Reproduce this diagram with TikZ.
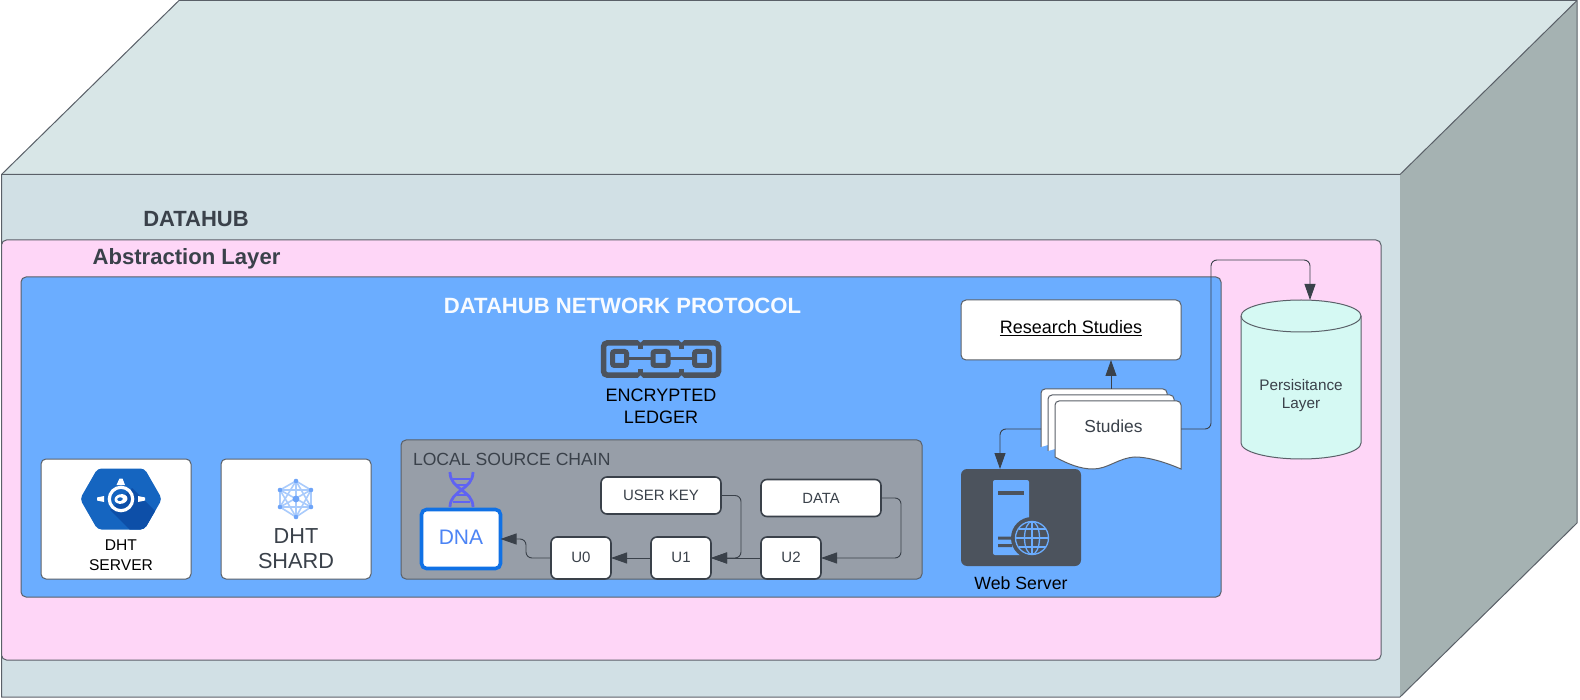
\documentclass[tikz,border=0pt]{standalone}
\usepackage{fontspec}
\setmainfont{Liberation Sans}
\usetikzlibrary{arrows.meta,calc}
\definecolor{ink}{HTML}{3A414A}
\definecolor{edge}{HTML}{5A6068}
\definecolor{topf}{HTML}{D8E6E7}
\definecolor{frontf}{HTML}{D1E0E5}
\definecolor{sidef}{HTML}{A5B2B2}
\definecolor{pinkf}{HTML}{FED6F7}
\definecolor{bluef}{HTML}{6BADFF}
\definecolor{greyf}{HTML}{979EA8}
\definecolor{cylf}{HTML}{D5F9F3}
\definecolor{darkf}{HTML}{4C535D}
\definecolor{dnablue}{HTML}{1071E5}
\definecolor{dnatext}{HTML}{4C84F5}
\definecolor{helix}{HTML}{5F63F2}
\definecolor{hexa}{HTML}{1565C0}
\definecolor{hexb}{HTML}{0D4FA8}
\definecolor{shl}{HTML}{A9CBFC}
\definecolor{shn}{HTML}{6EA4F8}
\newcommand{\fs}[1]{\fontsize{#1}{#1}\selectfont}
\tikzset{
  x=1pt,y=-1pt,
  box/.style={draw=edge,line width=1pt,rounded corners=5pt,inner sep=0pt,outer sep=0pt,align=center},
  wbox/.style={box,fill=white,text=ink},
  chainbox/.style={wbox,draw=ink,line width=1.6pt,rounded corners=6pt,font=\fs{15}},
  lbl/.style={inner sep=0pt,outer sep=0pt,align=center,text=ink},
  conn/.style={draw=ink,line width=0.9pt,rounded corners=6pt,-{Triangle[length=16pt,width=11pt]}},
  sheet/.style={fill=white,draw=edge,line width=1pt},
}
\begin{document}
\begin{tikzpicture}
\useasboundingbox (0,0) rectangle (1580,700);
% cuboid
\fill[topf] (1.5,174.5) -- (179,0.5) -- (1577,0.5) -- (1400,174.5) -- cycle;
\fill[sidef] (1400,174.5) -- (1577,0.5) -- (1577,523) -- (1400,697) -- cycle;
\fill[frontf] (1.5,174.5) rectangle (1400,697);
\draw[edge,line width=1pt,line join=round] (1.5,174.5) -- (179,0.5) -- (1577,0.5) -- (1577,523) -- (1400,697) -- (1.5,697) -- cycle;
\draw[edge,line width=1pt] (1.5,174.5) -- (1400,174.5) -- (1577,0.5);
\node[lbl,font=\fs{22}\bfseries] (datahub) at (196,219) {DATAHUB};
% layers
\node[box,fill=pinkf,minimum width=1379.5pt,minimum height=420pt,anchor=north west] (abstraction) at (1.5,240) {};
\node[lbl,font=\fs{22.1}\bfseries] (abstitle) at (186.5,258.5) {Abstraction Layer};
\node[box,fill=bluef,minimum width=1200pt,minimum height=320pt,anchor=north west] (protocol) at (21,277) {};
\node[lbl,font=\fs{22.1}\bfseries,text=white!95!bluef] (prottitle) at (622.5,306) {DATAHUB NETWORK PROTOCOL};
% chain icon
\begin{scope}[darkf,line width=5.5pt]
  \draw[rounded corners=4pt] (603.5,342.8) rectangle (718.5,375.2);
  \draw (640.5,342) -- (640.5,349) (640.5,369) -- (640.5,376) (681.5,342) -- (681.5,349) (681.5,369) -- (681.5,376);
  \draw[line width=5pt,rounded corners=2pt] (612.5,351.5) rectangle (626.5,365.5);
  \draw[line width=5pt,rounded corners=2pt] (653,351.5) rectangle (668,365.5);
  \draw[line width=5pt,rounded corners=2pt] (694.5,351.5) rectangle (709.5,365.5);
  \draw[line width=3pt] (626,358.5) -- (653,358.5) (668,358.5) -- (695,358.5);
\end{scope}
\fill[bluef] (637.5,339.6) -- (643.5,339.6) -- (640.5,342.5) -- cycle
  (678.5,339.6) -- (684.5,339.6) -- (681.5,342.5) -- cycle
  (637.5,378.4) -- (643.5,378.4) -- (640.5,375.5) -- cycle
  (678.5,378.4) -- (684.5,378.4) -- (681.5,375.5) -- cycle;
\node[lbl,font=\fs{18},text=black] (ledger) at (661,406.5) {ENCRYPTED\\[4pt]LEDGER};
% DHT server
\node[wbox,minimum width=150pt,minimum height=120pt] (dhtserver) at (116,519) {};
\fill[hexa,rounded corners=4pt] (80,499) -- (97.5,468.5) -- (144.5,468.5) -- (162,499) -- (144.5,529.5) -- (97.5,529.5) -- cycle;
\begin{scope}
  \clip[rounded corners=4pt] (80,499) -- (97.5,468.5) -- (144.5,468.5) -- (162,499) -- (144.5,529.5) -- (97.5,529.5) -- cycle;
  \fill[hexb] (110,510) -- (132,488) -- (175,531) -- (135,535) -- cycle;
\end{scope}
\draw[white,line width=3.2pt] (121,499) circle (11.7);
\fill[white,rotate around={10:(121,499)}] (121,499) ellipse (6.5 and 4.8);
\fill[hexa,rotate around={10:(121,499)}] (120,499) ellipse (2.8 and 1.8);
\fill[white] (119.5,478.5) -- (122.5,478.5) -- (125,485) -- (116.5,485) -- cycle;
\fill[white] (97,497.5) -- (104,496) -- (104,502) -- (97,500.5) -- cycle;
\fill[white] (145,497.5) -- (138,496) -- (138,502) -- (145,500.5) -- cycle;
\node[lbl,font=\fs{15.6},text=black] (servertxt) at (121,555.5) {DHT\\[4.5pt]SERVER};
% DHT shard
\node[wbox,minimum width=150pt,minimum height=120pt] (dhtshard) at (296,519) {};
\begin{scope}[shl,line width=1.6pt]
  \draw (296,481) -- (311,490) -- (311,507) -- (296,517) -- (280,507) -- (280,490) -- cycle;
  \draw (296,481) -- (296,517) (280,490) -- (311,507) (311,490) -- (280,507);
  \draw (296,481) -- (280,507) (296,481) -- (311,507) (296,517) -- (280,490) (296,517) -- (311,490);
  \draw (280,490) -- (311,490) (280,507) -- (311,507);
\end{scope}
\fill[shn] (296,499) circle (3.4);
\foreach \p in {(296,481),(311,490),(311,507),(296,517),(280,507),(280,490)} \fill[shn] \p circle (2.3);
\node[lbl,font=\fs{21.7}] (shardtxt) at (296,548.5) {DHT\\[4pt]SHARD};
% local source chain
\node[box,fill=greyf,minimum width=521pt,minimum height=139pt,anchor=north west] (lsc) at (401,440) {};
\node[lbl,font=\fs{17.6},anchor=west] (lsctxt) at (413,459.5) {LOCAL SOURCE CHAIN};
\begin{scope}[helix,line width=2.8pt]
  \draw (450,472) .. controls (450,490) and (473,490) .. (473,507);
  \draw (473,472) .. controls (473,490) and (450,490) .. (450,507);
  \draw[line width=2pt] (453,479) -- (470,479) (456,485) -- (468,485) (456,495) -- (467,495) (453,502) -- (470,502);
\end{scope}
\node[wbox,draw=dnablue,line width=3.6pt,minimum width=79pt,minimum height=59pt,text=dnatext,font=\fs{21}] (dna) at (461,539) {\raisebox{3pt}{DNA}};
\node[chainbox,minimum width=120pt,minimum height=37pt] (userkey) at (661,495.5) {USER KEY};
\node[chainbox,minimum width=120pt,minimum height=37pt,font=\fs{14.8}] (data) at (821,498) {\raisebox{-1pt}{DATA}};
\node[chainbox,minimum width=60pt,minimum height=42pt] (uzero) at (581,558) {\raisebox{1pt}{U0}};
\node[chainbox,minimum width=60pt,minimum height=42pt] (uone) at (681,558) {\raisebox{1pt}{U1}};
\node[chainbox,minimum width=60pt,minimum height=42pt] (utwo) at (791,558) {\raisebox{1pt}{U2}};
\coordinate (ukturn) at (741,495);
\coordinate (dtturn) at (901,498);
\coordinate (dnaturn) at (526,539);
\draw[conn] (userkey.east) -| (ukturn |- uone.east) -- (uone.east);
\draw[conn] (data.east) -| (dtturn |- utwo.east) -- (utwo.east);
\draw[conn,rounded corners=0pt] (utwo.west) -- (uone.east);
\draw[conn,rounded corners=0pt] (uone.west) -- (uzero.east);
\draw[conn] (uzero.west) -| (dnaturn) -- (dna.east);
% research + studies
\node[wbox,minimum width=220pt,minimum height=60pt,text=black,font=\fs{18}] (research) at (1071,330) {\raisebox{6pt}{\underline{Research Studies}}};
\draw[sheet,rounded corners=4pt] (1041,447) -- (1041,389) -- (1167,389) -- (1167,410);
\draw[sheet,rounded corners=4pt] (1048,451) -- (1048,395) -- (1174,395) -- (1174,415);
\path[sheet] (1055,457) [rounded corners=4pt] -- (1055,401) -- (1181,401) [sharp corners] -- (1181,469)
  .. controls (1160,460) and (1145,457) .. (1135,457) .. controls (1118,458) and (1108,469) .. (1093,469)
  .. controls (1080,469) and (1068,464) .. (1055,457) -- cycle;
\node[lbl,font=\fs{17.4}] (studies) at (1113.5,426) {Studies};
\coordinate (studiesleft) at (1041,429);
\coordinate (studiesright) at (1181,429);
\coordinate (studiestop) at (1111,389);
\coordinate (pturn) at (1211,260);
% web server
\node[box,draw=none,fill=darkf,minimum width=120pt,minimum height=97pt,rounded corners=6pt] (web) at (1021,517.5) {};
\fill[bluef,rounded corners=2pt] (993,555) -- (993,480) -- (1029,480) -- (1029,555) -- cycle;
\fill[darkf] (998,491) rectangle (1024,495);
\fill[darkf] (998,536.5) rectangle (1012,539.5) (998,544) rectangle (1012,547);
\fill[darkf] (1032,538) circle (21);
\begin{scope}[bluef,line width=1.3pt]
  \draw (1032,538) circle (16.5);
  \draw (1032,538) ellipse (7.5 and 16.5);
  \draw (1032,521.5) -- (1032,554.5);
  \draw (1015.5,538) -- (1048.5,538);
  \draw (1018.5,529) -- (1045.5,529) (1018.5,547) -- (1045.5,547);
\end{scope}
\node[lbl,font=\fs{17.7},text=black] (webtxt) at (1021,583.5) {Web Server};
% persistence
\path[fill=cylf,draw=edge,line width=1pt] (1241,316) arc[start angle=180,end angle=0,x radius=60,y radius=-16] -- (1361,443) arc[start angle=0,end angle=-180,x radius=60,y radius=-16] -- cycle;
\draw[edge,line width=1pt] (1241,316) arc[start angle=180,end angle=360,x radius=60,y radius=-16];
\coordinate (cyltop) at (1310,300);
\node[lbl,font=\fs{15.3}] (persist) at (1301,395.5) {Persisitance\\[3.5pt]Layer};
% connectors
\draw[conn,rounded corners=0pt] (studiestop) -- (research.south -| studiestop);
\draw[conn] (studiesleft) -| (web.north -| 1000,0);
\draw[conn] (studiesright) -| (pturn) -| (cyltop);
\end{tikzpicture}
\end{document}
